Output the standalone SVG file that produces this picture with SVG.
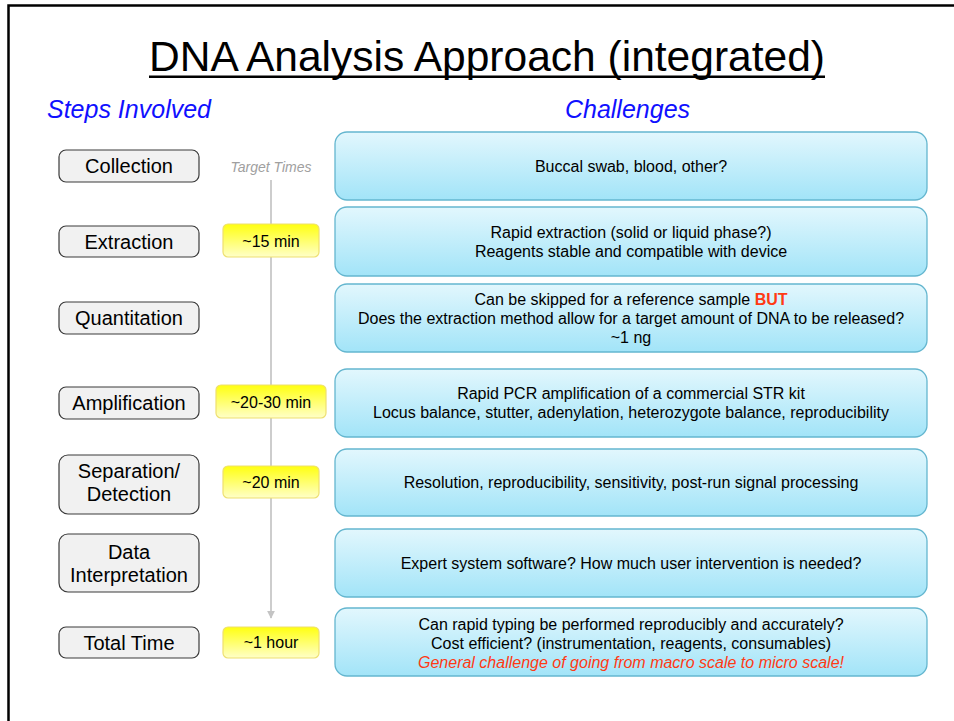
<svg xmlns="http://www.w3.org/2000/svg" width="954" height="721" viewBox="0 0 954 721">
<defs>
<linearGradient id="gBlue" x1="0" y1="0" x2="0" y2="1">
<stop offset="0" stop-color="#e2f7fd"/>
<stop offset="1" stop-color="#a2e4f8"/>
</linearGradient>
<linearGradient id="gYel" x1="0" y1="0" x2="0" y2="1">
<stop offset="0" stop-color="#ffff10"/>
<stop offset="1" stop-color="#ffffc8"/>
</linearGradient>
<marker id="arr" viewBox="0 0 10 10" refX="9" refY="5" markerWidth="8" markerHeight="8" markerUnits="userSpaceOnUse" orient="auto">
<path d="M0,0 L10,5 L0,10 Z" fill="#c4c4c4"/>
</marker>
<style>
text{font-family:"Liberation Sans",Arial,sans-serif;}
.step rect{fill:#f1f1f1;stroke:#3a3a3a;stroke-width:1.2;}
.step text{font-size:20px;fill:#000;text-anchor:middle;}
.time rect{fill:url(#gYel);stroke:#eee070;stroke-width:1.2;}
.time text{font-size:16px;fill:#000;text-anchor:middle;}
.chal rect{fill:url(#gBlue);stroke:#64b6cf;stroke-width:1.3;}
.chal text{font-size:16px;fill:#000;text-anchor:middle;}
.chal .red{fill:#ff3a14;}
.hdr{font-size:25px;font-style:italic;fill:#1010ff;}
</style>
</defs>
<rect width="954" height="721" fill="#fff"/>
<path d="M8.5,721 V5.5 H954" fill="none" stroke="#000" stroke-width="2.5"/>

<g id="title">
<text x="487" y="71" font-size="43" text-anchor="middle" fill="#000" textLength="676" lengthAdjust="spacingAndGlyphs">DNA Analysis Approach (integrated)</text>
<rect x="149" y="75.5" width="676" height="2.5" fill="#000"/>
</g>
<text class="hdr" x="47" y="118">Steps Involved</text>
<text class="hdr" x="627.5" y="118" text-anchor="middle">Challenges</text>
<text x="271" y="172" font-size="14" font-style="italic" fill="#a0a0a0" text-anchor="middle">Target Times</text>

<g id="connectors">
<line x1="271" y1="180" x2="271" y2="618" stroke="#c8c8c8" stroke-width="1.8" marker-end="url(#arr)"/>
</g>

<g id="step-collection" class="step"><rect x="59" y="150" width="140" height="32" rx="7"/><text x="129" y="173">Collection</text></g>
<g id="step-extraction" class="step"><rect x="59" y="226" width="140" height="31" rx="7"/><text x="129" y="249">Extraction</text></g>
<g id="step-quantitation" class="step"><rect x="59" y="302" width="140" height="32" rx="7"/><text x="129" y="325">Quantitation</text></g>
<g id="step-amplification" class="step"><rect x="59" y="387" width="140" height="32" rx="7"/><text x="129" y="410">Amplification</text></g>
<g id="step-separation" class="step"><rect x="59" y="455" width="140" height="59" rx="9"/><text x="129" y="478">Separation/</text><text x="129" y="501">Detection</text></g>
<g id="step-data" class="step"><rect x="59" y="534" width="140" height="58" rx="9"/><text x="129" y="559">Data</text><text x="129" y="582">Interpretation</text></g>
<g id="step-total" class="step"><rect x="59" y="627" width="140" height="31" rx="7"/><text x="129" y="650">Total Time</text></g>

<g id="time-extraction" class="time"><rect x="223" y="224" width="96" height="33" rx="5"/><text x="271" y="247">~15 min</text></g>
<g id="time-amplification" class="time"><rect x="216" y="385" width="110" height="33" rx="5"/><text x="271" y="408">~20-30 min</text></g>
<g id="time-separation" class="time"><rect x="223" y="466" width="96" height="32" rx="5"/><text x="271" y="488">~20 min</text></g>
<g id="time-total" class="time"><rect x="223" y="627" width="96" height="31" rx="5"/><text x="271" y="648">~1 hour</text></g>

<g id="chal-collection" class="chal"><rect x="335" y="132" width="592" height="68" rx="12"/><text x="631" y="172">Buccal swab, blood, other?</text></g>
<g id="chal-extraction" class="chal"><rect x="335" y="207" width="592" height="69" rx="12"/><text x="631" y="238">Rapid extraction (solid or liquid phase?)</text><text x="631" y="257">Reagents stable and compatible with device</text></g>
<g id="chal-quantitation" class="chal"><rect x="335" y="284" width="592" height="68" rx="12"/><text x="631" y="305">Can be skipped for a reference sample <tspan class="red" font-weight="bold">BUT</tspan></text><text x="631" y="324">Does the extraction method allow for a target amount of DNA to be released?</text><text x="631" y="343">~1 ng</text></g>
<g id="chal-amplification" class="chal"><rect x="335" y="369" width="592" height="68" rx="12"/><text x="631" y="399">Rapid PCR amplification of a commercial STR kit</text><text x="631" y="418">Locus balance, stutter, adenylation, heterozygote balance, reproducibility</text></g>
<g id="chal-separation" class="chal"><rect x="335" y="449" width="592" height="67" rx="12"/><text x="631" y="488">Resolution, reproducibility, sensitivity, post-run signal processing</text></g>
<g id="chal-data" class="chal"><rect x="335" y="529" width="592" height="68" rx="12"/><text x="631" y="569">Expert system software? How much user intervention is needed?</text></g>
<g id="chal-total" class="chal"><rect x="335" y="608" width="592" height="68" rx="12"/><text x="631" y="630">Can rapid typing be performed reproducibly and accurately?</text><text x="631" y="649">Cost efficient? (instrumentation, reagents, consumables)</text><text x="631" y="668" class="red" font-style="italic">General challenge of going from macro scale to micro scale!</text></g>
</svg>
